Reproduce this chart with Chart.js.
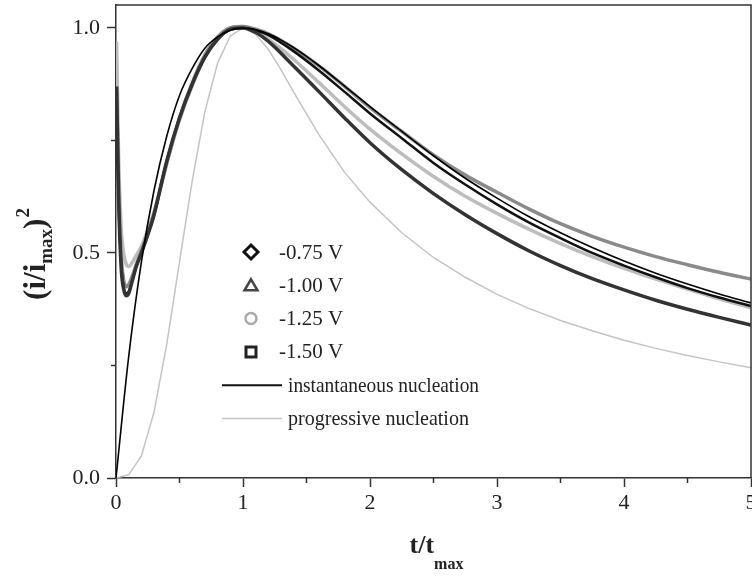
<!DOCTYPE html>
<html>
<head>
<meta charset="utf-8">
<script src="https://cdn.jsdelivr.net/npm/chart.js@4.4.1/dist/chart.umd.min.js"></script>
<style>
    html, body { margin: 0; padding: 0; background: #fff; }
    #wrap { width: 752px; height: 576px; }
</style>
</head>
<body>
<div id="wrap"><canvas id="chart" width="752" height="576"></canvas></div>
<script>
const SERIF = '"Liberation Serif", "Times New Roman", serif';

// Theoretical curves (t/tmax vs (i/imax)^2)
const tTheory = [0, 0.1, 0.2, 0.3, 0.4, 0.5, 0.6, 0.7, 0.8, 0.9, 1.0, 1.1, 1.2, 1.3, 1.4, 1.5, 1.6, 1.8, 2.0,
    2.25, 2.5, 2.75, 3.0, 3.25, 3.5, 3.75, 4.0, 4.25, 4.5, 4.75, 5.0];
const instantaneous = [0, 0.27, 0.48, 0.64, 0.76, 0.85, 0.91, 0.955, 0.98, 0.995, 1.0, 0.996, 0.987, 0.973, 0.956, 0.937, 0.916, 0.871, 0.825,
    0.77, 0.716, 0.666, 0.622, 0.581, 0.545, 0.512, 0.482, 0.455, 0.431, 0.409, 0.389];
const progressive = [0, 0.007, 0.049, 0.147, 0.298, 0.48, 0.66, 0.814, 0.922, 0.982, 1.0, 0.986, 0.952, 0.907, 0.857, 0.809, 0.762, 0.679, 0.613,
    0.545, 0.49, 0.446, 0.408, 0.377, 0.35, 0.327, 0.306, 0.288, 0.272, 0.258, 0.245];

// Measured transients
const tData = [0.005, 0.02, 0.04, 0.06, 0.08, 0.1, 0.13, 0.16, 0.2, 0.25, 0.3, 0.4, 0.5, 0.6, 0.7, 0.8, 0.9, 1.0,
    1.1, 1.2, 1.4, 1.6, 1.8, 2.0, 2.25, 2.5, 2.75, 3.0, 3.25, 3.5, 3.75, 4.0, 4.25, 4.5, 4.75, 5.0];
const v075 = [0.80, 0.62, 0.48, 0.425, 0.41, 0.415, 0.44, 0.47, 0.50, 0.54, 0.585, 0.705, 0.80, 0.875, 0.935, 0.975, 0.997, 1.0,
    0.995, 0.984, 0.948, 0.905, 0.858, 0.81, 0.755, 0.70, 0.652, 0.608, 0.568, 0.533, 0.50, 0.472, 0.446, 0.422, 0.401, 0.382];
const v100 = [0.86, 0.66, 0.50, 0.44, 0.425, 0.43, 0.45, 0.475, 0.505, 0.545, 0.59, 0.70, 0.80, 0.878, 0.94, 0.98, 1.0, 1.003,
    0.997, 0.987, 0.955, 0.915, 0.87, 0.823, 0.77, 0.718, 0.673, 0.635, 0.598, 0.565, 0.537, 0.513, 0.492, 0.474, 0.457, 0.442];
const v125 = [0.97, 0.72, 0.56, 0.50, 0.475, 0.47, 0.48, 0.495, 0.515, 0.55, 0.59, 0.70, 0.795, 0.872, 0.935, 0.978, 1.0, 1.003,
    0.992, 0.975, 0.93, 0.878, 0.825, 0.775, 0.72, 0.67, 0.626, 0.588, 0.553, 0.521, 0.492, 0.466, 0.442, 0.42, 0.398, 0.378];
const v150 = [0.87, 0.63, 0.47, 0.42, 0.405, 0.41, 0.44, 0.47, 0.50, 0.54, 0.585, 0.705, 0.80, 0.875, 0.935, 0.975, 0.997, 1.0,
    0.99, 0.97, 0.915, 0.858, 0.80, 0.745, 0.685, 0.632, 0.585, 0.543, 0.505, 0.472, 0.443, 0.418, 0.395, 0.375, 0.357, 0.34];

const xTicks = [0, 1, 2, 3, 4, 5];
const xMinor = [0.5, 1.5, 2.5, 3.5, 4.5];
const yMinor = [0.25, 0.75];

const legendItems = [
    { label: '-0.75 V', marker: 'diamond', color: '#111' },
    { label: '-1.00 V', marker: 'triangle', color: '#444' },
    { label: '-1.25 V', marker: 'circle', color: '#aaa' },
    { label: '-1.50 V', marker: 'square', color: '#222' },
    { label: 'instantaneous nucleation', marker: 'line', color: '#111', fit: 191 },
    { label: 'progressive nucleation', marker: 'line', color: '#c4c4c4', fit: 181 }
];

function toPoints(xs, ys) {
    return xs.map((x, i) => ({ x: x, y: ys[i] }));
}

function series(label, xs, ys, color, width, order, smooth) {
    return {
        label: label,
        data: toPoints(xs, ys),
        showLine: true,
        borderColor: color,
        borderWidth: width,
        pointRadius: 0,
        cubicInterpolationMode: smooth ? 'monotone' : 'default',
        tension: 0,
        order: order
    };
}

/**
 * Box, minor ticks, axis titles with sub/superscripts
 */
const axisDecor = {
    id: 'axisDecor',
    afterDraw(chart) {
        const { ctx, chartArea: a } = chart;
        const sx = chart.scales.x, sy = chart.scales.y;
        ctx.save();
        ctx.strokeStyle = '#333';
        ctx.lineWidth = 1.5;
        ctx.beginPath();
        ctx.moveTo(a.left, a.top);
        ctx.lineTo(a.right, a.top);
        ctx.lineTo(a.right, a.bottom);
        xMinor.forEach(v => {
            const px = sx.getPixelForValue(v);
            ctx.moveTo(px, a.bottom);
            ctx.lineTo(px, a.bottom + 5);
        });
        yMinor.forEach(v => {
            const py = sy.getPixelForValue(v);
            ctx.moveTo(a.left, py);
            ctx.lineTo(a.left - 5, py);
        });
        ctx.stroke();

        ctx.fillStyle = '#222';
        ctx.textBaseline = 'alphabetic';
        ctx.textAlign = 'left';

        // x title: t/t_max
        const big = 'bold 26px ' + SERIF, small = 'bold 16px ' + SERIF;
        ctx.font = big;
        const w1 = ctx.measureText('t/t').width;
        ctx.font = small;
        const w2 = ctx.measureText('max').width;
        const x0 = (a.left + a.right) / 2 - (w1 + w2) / 2 + 3;
        ctx.font = big;
        ctx.fillText('t/t', x0, 553);
        ctx.font = small;
        ctx.fillText('max', x0 + w1, 569);

        // y title: (i/i_max)^2, rotated
        const ybig = 'bold 31px ' + SERIF, ysmall = 'bold 19px ' + SERIF;
        ctx.save();
        ctx.translate(45, (a.top + a.bottom) / 2 + 13);
        ctx.rotate(-Math.PI / 2);
        ctx.font = ybig;
        const p1 = ctx.measureText('(i/i').width;
        const p3 = ctx.measureText(')').width;
        ctx.font = ysmall;
        const p2 = ctx.measureText('max').width;
        const p4 = ctx.measureText('2').width;
        let cx = -(p1 + p2 + p3 + p4) / 2;
        ctx.font = ybig;
        ctx.fillText('(i/i', cx, 0);
        cx += p1;
        ctx.font = ysmall;
        ctx.fillText('max', cx, 7);
        cx += p2;
        ctx.font = ybig;
        ctx.fillText(')', cx, 0);
        cx += p3 + 1;
        ctx.font = ysmall;
        ctx.fillText('2', cx, -16);
        ctx.restore();
        ctx.restore();
    }
};

/**
 * Legend drawn inside the plot area
 */
const insideLegend = {
    id: 'insideLegend',
    afterDraw(chart) {
        const { ctx, chartArea: a } = chart;
        const left = a.left + 106;
        const top = a.top + 247;
        const gap = 33.3;
        ctx.save();
        ctx.font = '21px ' + SERIF;
        ctx.textBaseline = 'middle';
        legendItems.forEach((item, i) => {
            const y = top + i * gap;
            const mx = left + 29;
            ctx.strokeStyle = item.color;
            ctx.beginPath();
            if (item.marker === 'diamond') {
                ctx.lineWidth = 3;
                ctx.moveTo(mx, y - 7); ctx.lineTo(mx + 7, y); ctx.lineTo(mx, y + 7); ctx.lineTo(mx - 7, y);
                ctx.closePath();
            } else if (item.marker === 'triangle') {
                ctx.lineWidth = 2.5;
                ctx.moveTo(mx, y - 6); ctx.lineTo(mx + 6.5, y + 5); ctx.lineTo(mx - 6.5, y + 5);
                ctx.closePath();
            } else if (item.marker === 'circle') {
                ctx.lineWidth = 2.5;
                ctx.arc(mx, y, 5.5, 0, Math.PI * 2);
            } else if (item.marker === 'square') {
                ctx.lineWidth = 3;
                ctx.rect(mx - 5, y - 5, 10, 10);
            } else {
                ctx.lineWidth = item.color === '#111' ? 2 : 1.5;
                ctx.moveTo(left, y); ctx.lineTo(left + 60, y);
            }
            ctx.stroke();
            ctx.fillStyle = '#222';
            if (item.fit) {
                ctx.fillText(item.label, left + 66, y + 1, item.fit);
            } else {
                ctx.fillText(item.label, left + 57, y + 1);
            }
        });
        ctx.restore();
    }
};

new Chart(document.getElementById('chart'), {
    type: 'scatter',
    data: {
        datasets: [
            series('-0.75 V', tData, v075, '#111', 2.5, 3, true),
            series('-1.00 V', tData, v100, '#8a8a8a', 3.5, 4, true),
            series('-1.25 V', tData, v125, '#bdbdbd', 3.5, 5, true),
            series('-1.50 V', tData, v150, '#333', 3.5, 2, true),
            series('instantaneous nucleation', tTheory, instantaneous, '#000', 1.6, 1, true),
            series('progressive nucleation', tTheory, progressive, '#c4c4c4', 1.5, 6, false)
        ]
    },
    options: {
        responsive: false,
        animation: false,
        devicePixelRatio: 1,
        layout: { padding: { left: 0, top: 5, right: 1, bottom: 0 } },
        plugins: {
            legend: { display: false },
            tooltip: { enabled: false }
        },
        scales: {
            x: {
                type: 'linear',
                min: 0,
                max: 5,
                afterBuildTicks: (s) => { s.ticks = xTicks.map(v => ({ value: v })); },
                afterFit: (s) => { s.height = 98; s.paddingLeft = 0; s.paddingRight = 0; },
                ticks: {
                    font: { family: SERIF, size: 22 },
                    color: '#222',
                    padding: 3,
                    maxRotation: 0,
                    callback: (v) => String(v)
                },
                grid: { drawOnChartArea: false, tickLength: 9, tickColor: '#333', tickWidth: 1.5 },
                border: { color: '#333', width: 1.5 }
            },
            y: {
                min: 0,
                max: 1.051,
                afterFit: (s) => { s.width = 116; s.paddingTop = 0; s.paddingBottom = 0; },
                ticks: {
                    stepSize: 0.5,
                    includeBounds: false,
                    font: { family: SERIF, size: 22 },
                    color: '#222',
                    padding: 7,
                    callback: (v) => v.toFixed(1)
                },
                grid: { drawOnChartArea: false, tickLength: 9, tickColor: '#333', tickWidth: 1.5 },
                border: { color: '#333', width: 1.5 }
            }
        }
    },
    plugins: [axisDecor, insideLegend]
});
</script>
</body>
</html>
